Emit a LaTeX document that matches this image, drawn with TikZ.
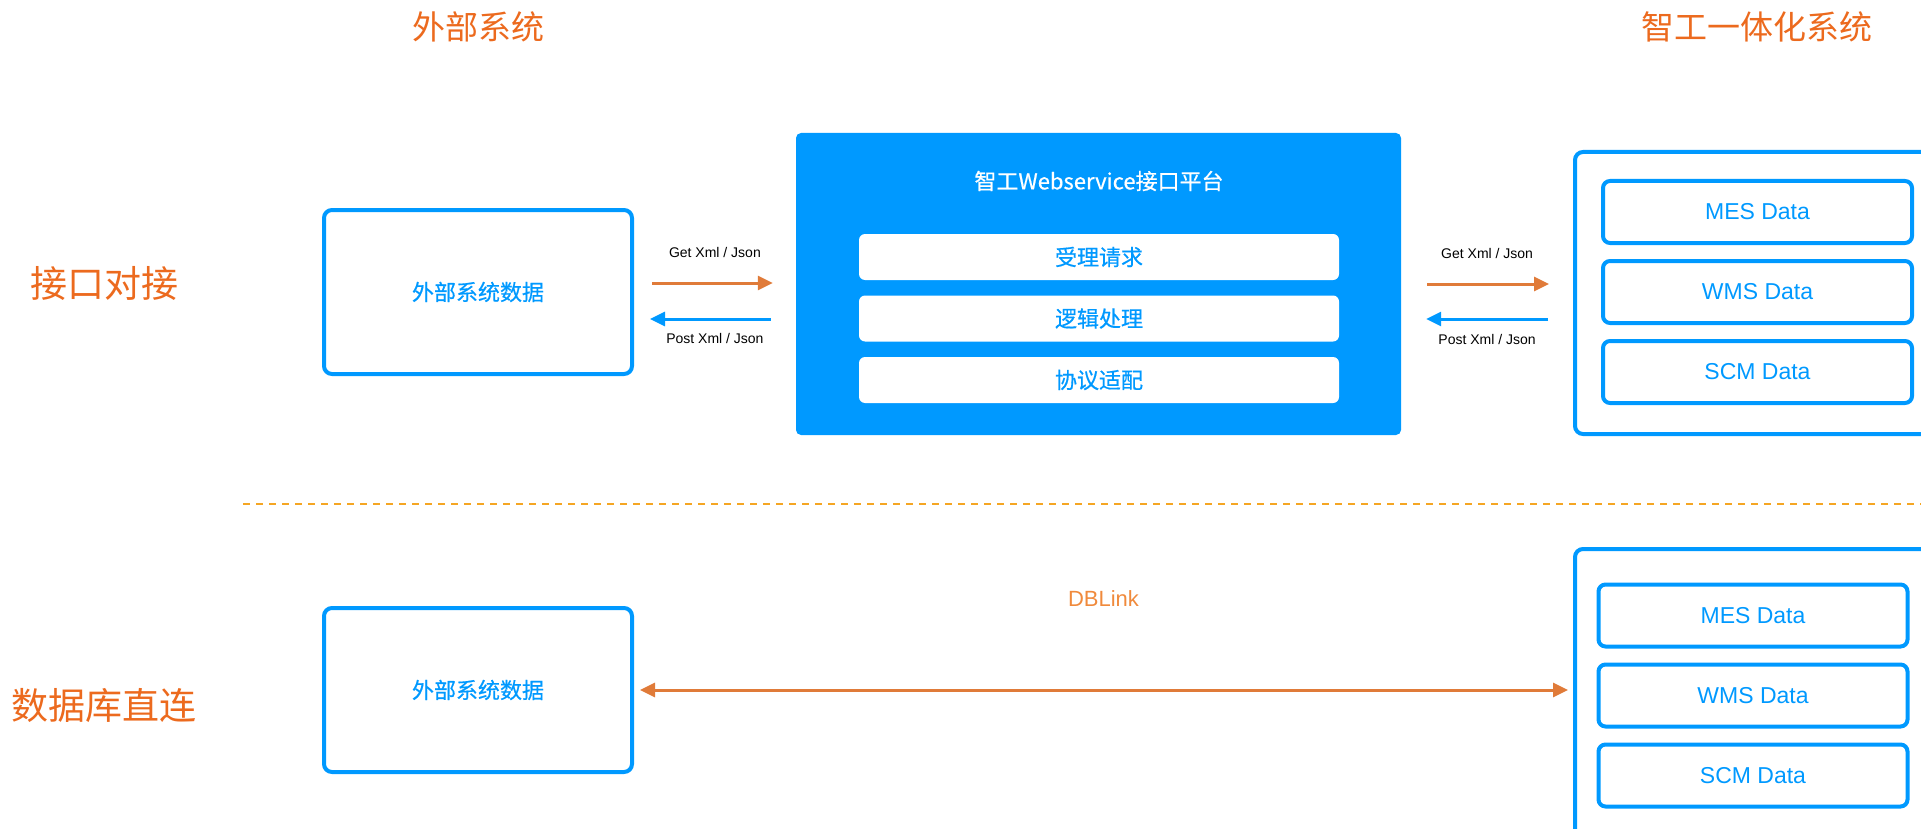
\documentclass[tikz,border=0pt]{standalone}
\usepackage{fontspec}
\setmainfont{Noto Sans CJK SC}
\newfontfamily\latinfont{Liberation Sans}
\newfontfamily\medfont[FakeBold=0.6]{Noto Sans CJK SC}
\usetikzlibrary{arrows.meta,positioning}

\definecolor{zgblue}{HTML}{0099FF}
\definecolor{zgorange}{HTML}{EC6A1E}
\definecolor{arrorange}{HTML}{E07B39}
\definecolor{dashorange}{HTML}{F5A623}
\definecolor{linkorange}{HTML}{F08A3C}

\begin{document}
\begin{tikzpicture}[x=1pt,y=-1pt,node distance=80pt,on grid,
    >={Triangle[length=15pt,width=14pt]}]
  \tikzstyle{heading}=[text=zgorange,font=\fontsize{33}{36}\selectfont]
  \tikzstyle{section}=[text=zgorange,font=\fontsize{37}{40}\selectfont]
  \tikzstyle{extbox}=[draw=zgblue,line width=4pt,rounded corners=8pt,
    minimum width=308pt,minimum height=164pt,text=zgblue,font=\medfont\fontsize{22}{26}\selectfont]
  \tikzstyle{platform}=[fill=zgblue,rounded corners=5pt,minimum width=605pt,minimum height=302pt]
  \tikzstyle{rowbox}=[fill=white,rounded corners=6pt,minimum width=480pt,minimum height=46pt,
    text=zgblue,font=\medfont\fontsize{22}{26}\selectfont]
  \tikzstyle{sysbox}=[draw=zgblue,line width=4pt,rounded corners=8pt,minimum width=400pt]
  \tikzstyle{databox}=[draw=zgblue,line width=4pt,rounded corners=7pt,minimum width=309pt,
    minimum height=62pt,text=zgblue,font=\latinfont\fontsize{23}{26}\selectfont]
  \tikzstyle{lbl}=[inner sep=0pt,text=black,font=\latinfont\fontsize{14}{16}\selectfont]
  \tikzstyle{getarrow}=[->,line width=3pt,draw=arrorange,arrorange]
  \tikzstyle{postarrow}=[->,line width=3pt,draw=zgblue,zgblue]

  \useasboundingbox (0,0) rectangle (1921,829);
  \clip (0,0) rectangle (1921,829);

  % headings
  \node[heading] (extTitle) at (478,27)  {外部系统};
  \node[heading] (sysTitle) at (1757,27) {智工一体化系统};
  \node[section] (apiLbl)   at (104,283) {接口对接};
  \node[section] (dbLbl)    at (104,706) {数据库直连};

  % external system
  \node[extbox] (extTop) at (478,292) {外部系统数据};
  \node[extbox] (extDb)  at (478,690) {外部系统数据};

  % webservice platform
  \node[platform] (ws) at (1098.5,284) {};
  \node[text=white,font=\medfont\fontsize{22}{26}\selectfont] (wsTitle) at (1099,181) {智工Webservice接口平台};
  \node[rowbox] (accept) at (1099,257) {受理请求};
  \node[rowbox,below=61.5pt of accept] (logic) {逻辑处理};
  \node[rowbox,below=61.5pt of logic]  (adapt) {协议适配};

  % integrated system
  \node[sysbox,minimum height=282pt] (sysTop) at (1775,293) {};
  \node[databox] (mesTop) at (1757.5,212) {MES Data};
  \node[databox,below=of mesTop] (wmsTop) {WMS Data};
  \node[databox,below=of wmsTop] (scmTop) {SCM Data};

  \node[sysbox,minimum height=300pt] (sysDb) at (1775,699) {};
  \node[databox] (mesDb) at (1753,615.5) {MES Data};
  \node[databox,below=of mesDb] (wmsDb) {WMS Data};
  \node[databox,below=of wmsDb] (scmDb) {SCM Data};

  % separator
  \draw[dashorange,line width=2pt,dash pattern=on 7pt off 6pt] (243,504) -- (1921,504);

  % interface arrows
  \draw[getarrow,shorten <=18pt,shorten >=23pt] ([yshift=9pt]extTop.east) -- ([yshift=9pt]extTop.east -| ws.west)
    node[midway,above=24pt,lbl] {Get Xml / Json};
  \draw[postarrow,shorten <=25pt,shorten >=16pt] ([yshift=-27pt]extTop.east -| ws.west) -- ([yshift=-27pt]extTop.east)
    node[midway,below=13pt,lbl] {Post Xml / Json};
  \draw[getarrow,shorten <=26pt,shorten >=24pt] (ws.east) -- (ws.east -| sysTop.west)
    node[midway,above=24pt,lbl] {Get Xml / Json};
  \draw[postarrow,shorten <=25pt,shorten >=25pt] ([yshift=-35pt]ws.east -| sysTop.west) -- ([yshift=-35pt]ws.east)
    node[midway,below=14pt,lbl] {Post Xml / Json};

  % database link
  \draw[<->,line width=3pt,draw=arrorange,arrorange,shorten <=6pt,shorten >=5pt] (extDb.east) -- (extDb.east -| sysDb.west)
    node[midway,above=82pt,inner sep=0pt,text=linkorange,font=\latinfont\fontsize{22}{26}\selectfont] {DBLink};
\end{tikzpicture}
\end{document}
